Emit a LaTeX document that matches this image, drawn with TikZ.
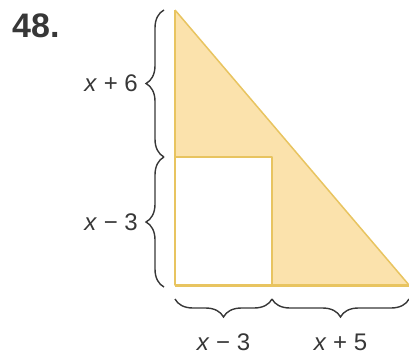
\documentclass[tikz,border=0pt]{standalone}
\usepackage{fontspec}
\setmainfont{Liberation Sans}
\usepackage{tikz}
\usetikzlibrary{positioning, calc, decorations.pathreplacing}
\definecolor{shadeFill}{RGB}{251,226,172}
\definecolor{shadeRim}{RGB}{232,196,96}
\definecolor{braceInk}{RGB}{55,55,55}

\begin{document}
\begin{tikzpicture}[
  x=1pt, y=-1pt,
  rim/.style={draw=shadeRim, line width=1.5pt, line join=round},
  brace/.style={draw=braceInk, line width=1.4pt, decorate,
                decoration={brace, amplitude=18pt}},
  lbl/.style={font=\fontsize{24}{26}\selectfont, text=braceInk, inner sep=0pt}]

  \useasboundingbox (0,0) rectangle (409,362);

  % triangle and square
  \coordinate (top) at (175,10);
  \coordinate (corner) at (175,285);
  \coordinate (right) at (409,285);
  \coordinate (sqTL) at (175,157);
  \coordinate (sqBR) at (272,285);

  \fill[shadeFill] (top) -- (corner) -- (right) -- cycle;
  \filldraw[rim, fill=white] (sqTL) rectangle (sqBR);
  \draw[rim] (top) -- (right);
  \draw[rim] (top) -- (corner);
  \draw[rim, line width=3pt] (corner) -- (right);

  % braces
  \coordinate (leftTop) at (164,10);
  \coordinate (leftMid) at (164,157);
  \coordinate (leftLow) at (164,287);
  \coordinate (baseLeft) at (175,299);
  \coordinate (baseMid) at (272,299);
  \coordinate (baseRight) at (409,299);

  \draw[brace] (leftMid) -- (leftTop);
  \draw[brace] (leftLow) -- (leftMid);
  \draw[brace] (baseMid) -- (baseLeft);
  \draw[brace] (baseRight) -- (baseMid);

  % labels
  \coordinate (tipUp) at (146,83.5);
  \coordinate (tipLow) at (146,222);
  \coordinate (tipBaseL) at (223.5,317);
  \coordinate (tipBaseR) at (340.5,317);

  \node[lbl, left=8pt of tipUp] (sideUp) {\textit{x} + 6};
  \node[lbl, left=8pt of tipLow] (sideLow) {\textit{x} − 3};
  \node[lbl, below=17pt of tipBaseL] (baseL) {\textit{x} − 3};
  \node[lbl, below=17pt of tipBaseR] (baseR) {\textit{x} + 5};

  \node[font=\fontsize{34}{36}\selectfont\bfseries, text=braceInk, inner sep=0pt,
        anchor=north west] (num) at (12,14) {48.};
\end{tikzpicture}
\end{document}
